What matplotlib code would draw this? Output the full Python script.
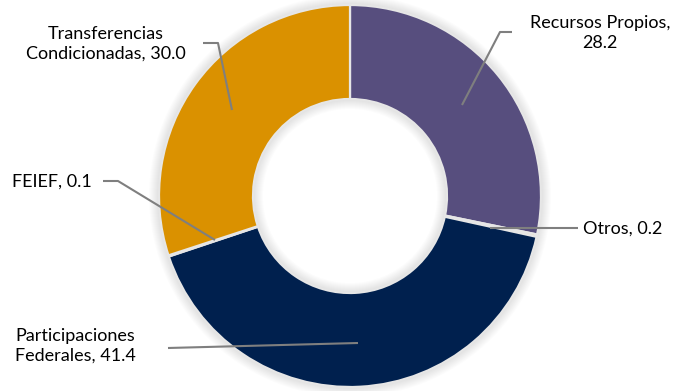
import matplotlib
matplotlib.use("Agg")
import matplotlib.pyplot as plt
from matplotlib.patches import Wedge

labels = ["Recursos Propios", "Otros", "Participaciones Federales", "FEIEF",
          "Transferencias Condicionadas"]
values = [28.2, 0.2, 41.4, 0.1, 30.0]
colors = ["#574E7E", "#F3C23E", "#00204E", "#BFBFBF", "#DA9100"]

W, H = 677, 391
CX, CY = 350, H - 196
R_OUT, R_IN = 191, 97

fig = plt.figure(figsize=(W / 100, H / 100), dpi=100)
ax = fig.add_axes([0, 0, 1, 1])

# soft shadow around the ring
for k in range(10):
    ax.add_patch(Wedge((CX, CY), R_OUT + 10 - k, 0, 360, width=R_OUT - R_IN + 20 - 2 * k,
                       facecolor="#000000", alpha=0.012, lw=0, zorder=1))

ax.pie(values, colors=colors, startangle=90, counterclock=False, center=(CX, CY),
       radius=R_OUT, frame=True,
       wedgeprops=dict(width=R_OUT - R_IN, edgecolor="#E6E6E6", linewidth=1.6, zorder=2))
ax.set_xlim(0, W)
ax.set_ylim(0, H)
ax.set_aspect("equal")
ax.axis("off")

plt.rcParams["font.family"] = ["Lato", "DejaVu Sans"]
fs = 13
ls = 1.3
LC = "#7F7F7F"


def leader(pts):
    xs = [p[0] for p in pts]
    ys = [H - p[1] for p in pts]
    ax.plot(xs, ys, color=LC, lw=1.5, zorder=5, solid_capstyle="butt")


leader([(203, 43), (218, 43), (232, 110)])
ax.text(106, H - 44, "Transferencias\nCondicionadas, 30.0", ha="center", va="center",
        fontsize=fs, linespacing=ls)

leader([(512, 32), (500, 32), (462, 105)])
ax.text(600, H - 33, "Recursos Propios,\n28.2", ha="center", va="center",
        fontsize=fs, linespacing=ls)

leader([(578, 228), (490, 228)])
ax.text(583, H - 229, "Otros, 0.2", ha="left", va="center", fontsize=fs)

leader([(103, 181), (118, 181), (215, 240)])
ax.text(12, H - 182, "FEIEF, 0.1", ha="left", va="center", fontsize=fs)

leader([(168, 348), (358, 343)])
ax.text(15, H - 346, "Participaciones\nFederales, 41.4", ha="left", va="center",
        fontsize=fs, linespacing=ls)

fig.savefig("out.png", dpi=100)
